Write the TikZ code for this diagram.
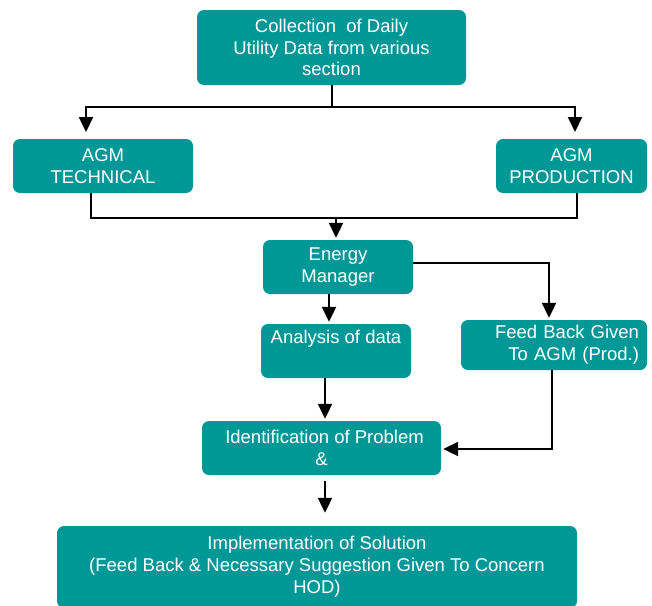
\documentclass[tikz,border=0pt]{standalone}
\usepackage{fontspec}
\setmainfont{Liberation Sans}
\usetikzlibrary{arrows.meta,calc}
\definecolor{teal1}{RGB}{0,151,151}
\begin{document}
\begin{tikzpicture}[x=1pt,y=-1pt,
  box/.style={fill=teal1,rounded corners=7pt,text=white,align=center,inner sep=0pt,
    font=\fontsize{18.5}{21.8}\selectfont},
  conn/.style={line width=2.1pt},
  arr/.style={line width=2.1pt,-{Triangle[width=14pt,length=15pt]}}]
\clip (0,0) rectangle (652,605);
\node[box,minimum width=269pt,minimum height=75pt] (top) at (331.5,47.5) {Collection\ \ of Daily\\Utility Data from various\\section};
\node[box,minimum width=180pt,minimum height=54pt] (tech) at (103,166) {AGM\\TECHNICAL};
\node[box,minimum width=151pt,minimum height=54pt] (prod) at (571.5,166) {AGM\\PRODUCTION};
\node[box,minimum width=150pt,minimum height=54pt] (em) at (338,267) {Energy\\Manager};
\node[box,minimum width=150pt,minimum height=54pt] (ana) at (336,351) {Analysis of data\\\strut};
\node[box,minimum width=186pt,minimum height=50pt,text width=170pt,align=right,inner xsep=8pt] (fb) at (554,345) {Feed Back Given\\To AGM (Prod.)};
\node[box,minimum width=239pt,minimum height=54pt] (id) at (321.5,448) {\hspace*{6pt}Identification of Problem\\\&};
\node[box,minimum width=520pt,minimum height=82pt] (impl) at (317,567) {Implementation of Solution\\(Feed Back \& Necessary Suggestion Given To Concern\\HOD)};
% top to AGMs
\coordinate (j1) at (332,107);
\coordinate (tA) at (86,132);
\coordinate (pA) at (575,132);
\draw[conn] (top.south -| j1) -- (j1);
\draw[arr] (j1) -| (tA);
\draw[arr] (j1) -| (pA);
% AGMs to energy manager
\coordinate (j2) at (336,218);
\draw[conn] (tech.south -| 91,0) |- (j2) -| (prod.south -| 577,0);
\draw[arr] (j2) -- ($(em.north -| j2)+(0,-2)$);
% energy manager to analysis
\draw[arr] (em.south -| 329,0) -- ($(ana.north -| 329,0)+(0,-2)$);
% energy manager to feed back
\draw[arr] (em.east |- 0,263) -| ($(fb.north -| 549,0)+(0,-2)$);
% analysis to identification
\draw[arr] (ana.south -| 325,0) -- ($(id.north -| 325,0)+(0,-2)$);
% feed back to identification
\draw[arr] (fb.south -| 552,0) |- ($(id.east |- 0,449)+(2,0)$);
% identification to implementation
\draw[arr] ($(id.south -| 325,0)+(0,6)$) -- ($(impl.north -| 325,0)+(0,-13)$);
\end{tikzpicture}
\end{document}
